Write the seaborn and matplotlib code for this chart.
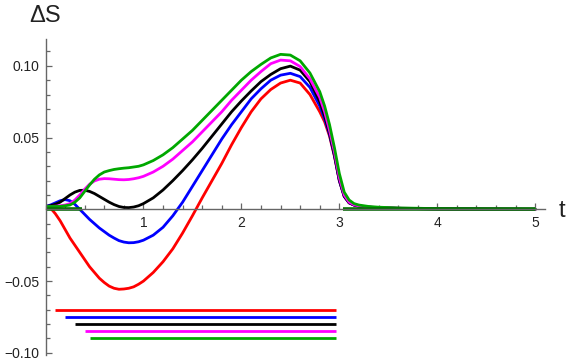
"""Entropy change curves in Mathematica-like style."""

import matplotlib

matplotlib.use("Agg")

import matplotlib.pyplot as plt
import pandas as pd
import seaborn as sns
from matplotlib.ticker import FixedLocator, MultipleLocator

T = [0.0, 0.05, 0.1, 0.15, 0.2, 0.25, 0.3, 0.35, 0.4, 0.45, 0.5, 0.55, 0.6, 0.65,
     0.7, 0.75, 0.8, 0.85, 0.9, 0.95, 1.0, 1.1, 1.2, 1.3, 1.4, 1.5, 1.6, 1.7, 1.8,
     1.9, 2.0, 2.1, 2.2, 2.3, 2.4, 2.5, 2.6, 2.7, 2.8, 2.85, 2.9, 2.95, 3.0, 3.05,
     3.1, 3.15, 3.2, 3.3, 3.4, 3.6, 4.0, 4.5, 5.0]

RED = [0.002, 0.001, -0.003, -0.008, -0.014, -0.020, -0.025, -0.030, -0.035, -0.040,
       -0.044, -0.048, -0.051, -0.0535, -0.055, -0.0557, -0.0555, -0.055, -0.054,
       -0.0522, -0.050, -0.044, -0.0365, -0.0275, -0.0165, -0.0045, 0.008, 0.020,
       0.032, 0.045, 0.057, 0.068, 0.077, 0.0835, 0.088, 0.090, 0.088, 0.080, 0.068,
       0.061, 0.051, 0.037, 0.020, 0.009, 0.0045, 0.003, 0.0022, 0.0015, 0.0011,
       0.0007, 0.0003, 0.0001, 0.0]
BLUE = [0.002, 0.003, 0.0045, 0.006, 0.0068, 0.006, 0.0035, 0.0, -0.0035, -0.007,
        -0.010, -0.013, -0.0155, -0.018, -0.020, -0.0218, -0.0228, -0.0233, -0.0232,
        -0.0226, -0.0215, -0.018, -0.0125, -0.0045, 0.005, 0.016, 0.027, 0.038, 0.049,
        0.059, 0.068, 0.077, 0.084, 0.090, 0.0935, 0.0948, 0.0925, 0.085, 0.072, 0.063,
        0.052, 0.0375, 0.020, 0.009, 0.0045, 0.003, 0.0022, 0.0015, 0.0011, 0.0007,
        0.0003, 0.0001, 0.0]
BLACK = [0.002, 0.0025, 0.0035, 0.005, 0.0075, 0.010, 0.012, 0.0132, 0.0133, 0.0125,
         0.011, 0.009, 0.007, 0.005, 0.0033, 0.002, 0.0013, 0.0012, 0.0016, 0.0025,
         0.004, 0.008, 0.0135, 0.020, 0.027, 0.0345, 0.0425, 0.051, 0.0595, 0.068,
         0.0755, 0.0825, 0.089, 0.094, 0.098, 0.0998, 0.097, 0.089, 0.075, 0.065, 0.053,
         0.038, 0.0205, 0.0092, 0.0046, 0.003, 0.0022, 0.0015, 0.0011, 0.0007, 0.0003,
         0.0001, 0.0]
MAGENTA = [0.002, 0.002, 0.0022, 0.0025, 0.003, 0.004, 0.0065, 0.010, 0.014, 0.0175,
           0.0198, 0.021, 0.0214, 0.0213, 0.021, 0.0207, 0.0206, 0.0208, 0.0213, 0.022,
           0.023, 0.026, 0.030, 0.035, 0.041, 0.047, 0.054, 0.061, 0.068, 0.076, 0.083,
           0.090, 0.096, 0.1015, 0.104, 0.1035, 0.0995, 0.091, 0.078, 0.068, 0.055,
           0.040, 0.022, 0.010, 0.005, 0.0032, 0.0024, 0.0016, 0.0012, 0.0008, 0.0004,
           0.0001, 0.0]
GREEN = [0.002, 0.002, 0.002, 0.002, 0.0025, 0.003, 0.005, 0.008, 0.0125, 0.017, 0.021,
         0.024, 0.026, 0.027, 0.0278, 0.0283, 0.0287, 0.029, 0.0295, 0.030, 0.031,
         0.034, 0.038, 0.043, 0.049, 0.055, 0.062, 0.069, 0.076, 0.083, 0.090, 0.096,
         0.101, 0.1055, 0.108, 0.1075, 0.1035, 0.095, 0.082, 0.072, 0.059, 0.043,
         0.025, 0.012, 0.0065, 0.004, 0.003, 0.002, 0.0015, 0.001, 0.0005, 0.0002,
         0.0001]

SERIES = ["red", "blue", "black", "magenta", "green"]
COLORS = {"red": "#FF0000", "blue": "#0000FF", "black": "#000000",
          "magenta": "#FF00FF", "green": "#00A800"}

# horizontal bars below the curves
BAR_Y = [-0.070, -0.075, -0.080, -0.085, -0.090]
BAR_START = [0.10, 0.20, 0.30, 0.40, 0.45]
BAR_END = [2.97, 2.97, 2.97, 2.97, 2.97]

# dark green zero segments on the t axis
ZERO_A_X = [0.0, 0.37]
ZERO_B_X = [3.04, 5.0]
ZERO_Y = [0.0, 0.0]

Y_TICKS = [-0.10, -0.05, 0.05, 0.10]
Y_LABELS = ["\u22120.10", "\u22120.05", "0.05", "0.10"]
X_TICKS = [1, 2, 3, 4, 5]

AXIS_GREY = "#666666"
TEXT = "#222222"


def main() -> None:
    sns.set_theme(style="white")
    plt.rcParams["font.family"] = ["Liberation Sans", "DejaVu Sans"]

    values = {"red": RED, "blue": BLUE, "black": BLACK, "magenta": MAGENTA, "green": GREEN}
    frames = [pd.DataFrame({"t": T, "dS": values[s], "series": s}) for s in SERIES]
    data = pd.concat(frames, ignore_index=True)

    fig = plt.figure(figsize=(5.72, 3.64), dpi=100)
    ax = fig.add_axes([45.5 / 572, 9 / 364, (545 - 45.5) / 572, (355 - 39) / 364])

    sns.lineplot(data=data, x="t", y="dS", hue="series", hue_order=SERIES,
                 palette=COLORS, estimator=None, sort=False, linewidth=2.0,
                 legend=False, ax=ax)

    for y, x0, x1, s in zip(BAR_Y, BAR_START, BAR_END, SERIES):
        ax.plot([x0, x1], [y, y], color=COLORS[s], linewidth=2.0, solid_capstyle="butt")

    ax.plot(ZERO_A_X, ZERO_Y, color="#007000", linewidth=2.6, solid_capstyle="butt")
    ax.plot(ZERO_B_X, ZERO_Y, color="#007000", linewidth=2.6, solid_capstyle="butt")

    ax.set_xlim(0, 5.10)
    ax.set_ylim(-0.1015, 0.1187)
    ax.set_xlabel("")
    ax.set_ylabel("")

    ax.spines[["top", "right"]].set_visible(False)
    ax.spines["left"].set_position(("data", 0))
    ax.spines["bottom"].set_position(("data", 0))
    for side in ["left", "bottom"]:
        ax.spines[side].set_color(AXIS_GREY)
        ax.spines[side].set_linewidth(1.0)

    ax.xaxis.set_major_locator(FixedLocator(X_TICKS))
    ax.xaxis.set_minor_locator(MultipleLocator(0.2))
    ax.yaxis.set_major_locator(FixedLocator(Y_TICKS))
    ax.yaxis.set_minor_locator(MultipleLocator(0.01))
    ax.set_xticklabels([str(x) for x in X_TICKS])
    ax.set_yticklabels(Y_LABELS)

    ax.tick_params(which="both", direction="in", color=AXIS_GREY, width=0.9,
                   labelsize=10, labelcolor=TEXT, bottom=True, left=True)
    ax.tick_params(which="major", length=4.5)
    ax.tick_params(which="minor", length=2.6)
    ax.tick_params(axis="x", pad=5)
    ax.tick_params(axis="y", pad=4.5)

    ax.text(0.0, 0.1345, "\u0394S", ha="center", va="center", fontsize=17,
            color=TEXT, clip_on=False)
    ax.text(5.27, -0.001, "t", ha="center", va="center", fontsize=17,
            color=TEXT, clip_on=False)

    fig.savefig("out.png", dpi=100, facecolor="white")
    plt.close(fig)


if __name__ == "__main__":
    main()
